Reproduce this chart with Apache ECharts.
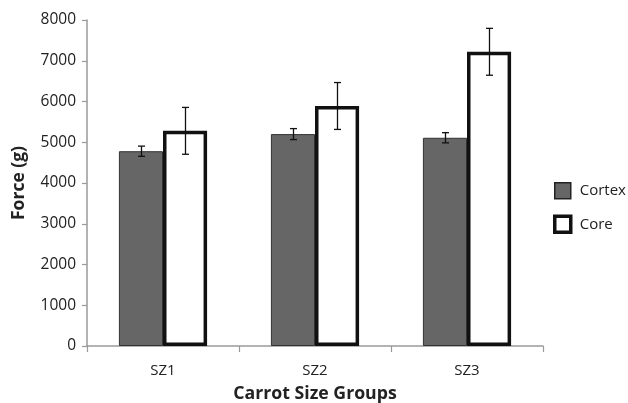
<!DOCTYPE html>
<html>
<head>
<meta charset="utf-8">
<script src="https://cdn.jsdelivr.net/npm/echarts@6/dist/echarts.min.js"></script>
<style>
  html, body { margin: 0; padding: 0; background: #fff; }
  #chart { width: 628px; height: 403px; }
</style>
</head>
<body>
<div id="chart"></div>
<script>
// Carrot penetration force by size group
const categories = ['SZ1', 'SZ2', 'SZ3'];
const cortexMean = [4780, 5200, 5110];
const cortexErr = [125, 135, 125];
const coreMean = [5280, 5890, 7220];
const coreErr = [575, 575, 575];
const yTicks = [0, 1000, 2000, 3000, 4000, 5000, 6000, 7000, 8000];

const FONT = '"Open Sans", "Liberation Sans", sans-serif';
const CAT_GAP = 0.42; // fraction of each band left empty

// error bar renderer; side = -1 for the left bar, +1 for the right bar
function errorBars(means, errs, side) {
  return {
    type: 'custom',
    silent: true,
    z: 10,
    data: categories.map((c, i) => [i, means[i] - errs[i], means[i] + errs[i]]),
    renderItem: function (params, api) {
      const band = api.size([1, 0])[0];
      const off = side * band * (1 - CAT_GAP) / 4;
      const lo = api.coord([api.value(0), api.value(1)]);
      const hi = api.coord([api.value(0), api.value(2)]);
      const x = Math.round(lo[0] + off) + 0.5;
      const cap = 3.5;
      const style = { stroke: '#111', lineWidth: 1.3 };
      return {
        type: 'group',
        children: [
          { type: 'line', shape: { x1: x, y1: hi[1], x2: x, y2: lo[1] }, style: style },
          { type: 'line', shape: { x1: x - cap, y1: hi[1], x2: x + cap, y2: hi[1] }, style: style },
          { type: 'line', shape: { x1: x - cap, y1: lo[1], x2: x + cap, y2: lo[1] }, style: style }
        ]
      };
    }
  };
}

const chart = echarts.init(document.getElementById('chart'));
chart.setOption({
  animation: false,
  backgroundColor: '#fff',
  grid: { left: 87, right: 85, top: 20, bottom: 57, containLabel: false, outerBoundsMode: 'none' },
  legend: {
    orient: 'vertical',
    left: 553,
    top: 182,
    padding: 0,
    itemWidth: 16,
    itemHeight: 16,
    itemGap: 15,
    textStyle: { fontFamily: FONT, fontSize: 15, color: '#222', padding: [0, 0, 0, 4] },
    data: [
      { name: 'Cortex', icon: 'rect', itemStyle: { color: '#666', borderColor: '#222', borderWidth: 1.5 } },
      { name: 'Core', icon: 'rect', itemStyle: { color: '#fff', borderColor: '#111', borderWidth: 3.5 } }
    ]
  },
  xAxis: {
    type: 'category',
    data: categories,
    name: 'Carrot Size Groups',
    nameLocation: 'middle',
    nameGap: 39,
    nameTextStyle: { fontFamily: FONT, fontSize: 17.7, fontWeight: 'bold', color: '#222' },
    axisLine: { lineStyle: { color: '#9a9a9a', width: 1.5 } },
    axisTick: { show: true, length: 6, lineStyle: { color: '#9a9a9a', width: 1.2 } },
    axisLabel: { fontFamily: FONT, fontSize: 15, color: '#222', margin: 17 }
  },
  yAxis: {
    type: 'value',
    min: yTicks[0],
    max: yTicks[yTicks.length - 1],
    interval: 1000,
    name: 'Force (g)',
    nameLocation: 'middle',
    nameGap: 59,
    nameTextStyle: { fontFamily: FONT, fontSize: 17.5, fontWeight: 'bold', color: '#222' },
    axisLine: { show: true, lineStyle: { color: '#9a9a9a', width: 1.5 } },
    axisTick: { show: true, length: 5, lineStyle: { color: '#9a9a9a', width: 1.2 } },
    splitLine: { show: false },
    axisLabel: { fontFamily: FONT, fontSize: 15.5, color: '#222', margin: 11, formatter: v => String(v) }
  },
  series: [
    {
      name: 'Cortex',
      type: 'bar',
      data: cortexMean,
      barGap: '0%',
      barCategoryGap: (CAT_GAP * 100) + '%',
      itemStyle: { color: '#666', borderColor: '#333', borderWidth: 1 }
    },
    {
      name: 'Core',
      type: 'bar',
      data: coreMean,
      barGap: '0%',
      barCategoryGap: (CAT_GAP * 100) + '%',
      itemStyle: { color: '#fff', borderColor: '#111', borderWidth: 3.5 }
    },
    errorBars(cortexMean, cortexErr, -1),
    errorBars(coreMean, coreErr, 1)
  ]
});
</script>
</body>
</html>
